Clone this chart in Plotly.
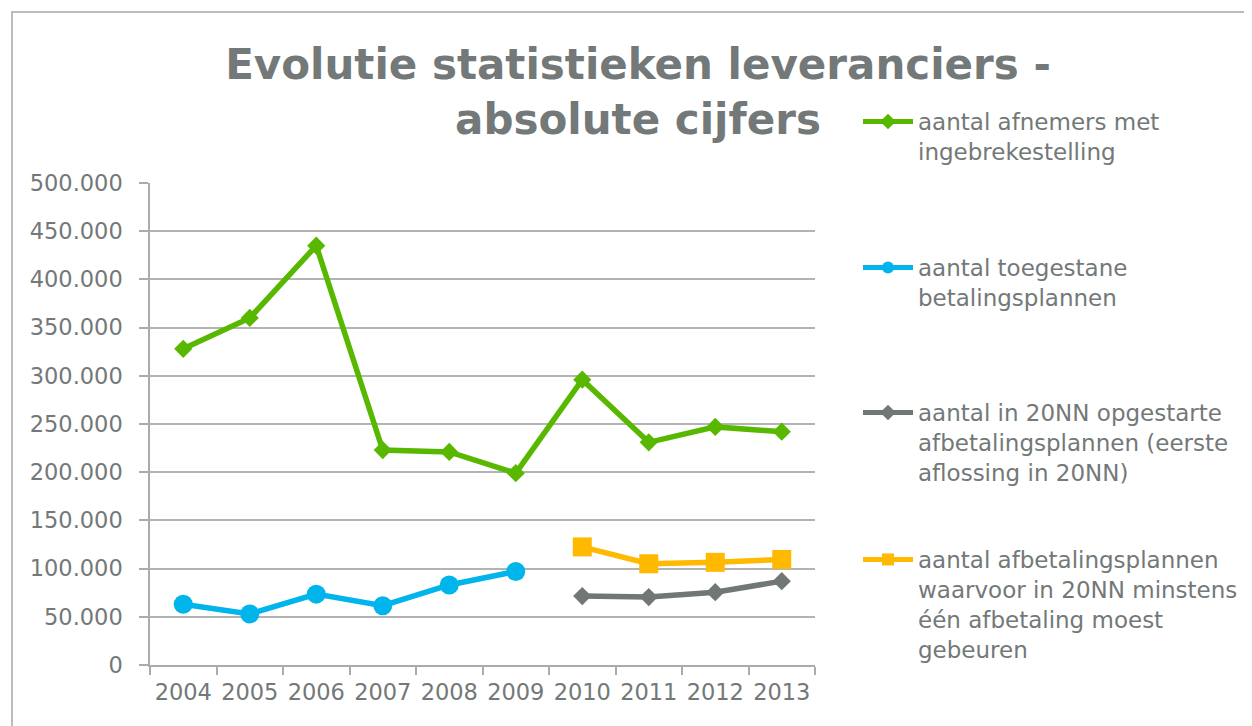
import plotly.graph_objects as go

years = ["2004", "2005", "2006", "2007", "2008", "2009", "2010", "2011", "2012", "2013"]

afnemers_ingebrekestelling = [328000, 360000, 435000, 223000, 221000, 199000, 296000, 231000, 247000, 242000]
toegestane_betalingsplannen = [63000, 53000, 73500, 61500, 83000, 97000, None, None, None, None]
opgestarte_afbetalingsplannen = [None, None, None, None, None, None, 71500, 70500, 75500, 87000]
afbetalingsplannen_minstens_een = [None, None, None, None, None, None, 122500, 105000, 106500, 109500]

names = [
    "aantal afnemers met<br>ingebrekestelling",
    "aantal toegestane<br>betalingsplannen",
    "aantal in 20NN opgestarte<br>afbetalingsplannen (eerste<br>aflossing in 20NN)",
    "aantal afbetalingsplannen<br>waarvoor in 20NN minstens<br>één afbetaling moest<br>gebeuren",
]

text_grey = "#737878"
font = "Verdana, DejaVu Sans, sans-serif"

fig = go.Figure()
fig.add_trace(go.Scatter(x=years, y=afnemers_ingebrekestelling, name=names[0], mode="lines+markers",
                         line=dict(color="#58B800", width=5.5),
                         marker=dict(symbol="diamond", size=14), legend="legend2"))
fig.add_trace(go.Scatter(x=years, y=toegestane_betalingsplannen, name=names[1], mode="lines+markers",
                         line=dict(color="#00B4EC", width=5.5),
                         marker=dict(symbol="circle", size=19), legend="legend3"))
fig.add_trace(go.Scatter(x=years, y=opgestarte_afbetalingsplannen, name=names[2], mode="lines+markers",
                         line=dict(color="#717676", width=5.5),
                         marker=dict(symbol="diamond", size=14), legend="legend4"))
fig.add_trace(go.Scatter(x=years, y=afbetalingsplannen_minstens_een, name=names[3], mode="lines+markers",
                         line=dict(color="#FFB900", width=5.5),
                         marker=dict(symbol="square", size=19), legend="legend5"))

# page body adds 8px, so positions below are reference pixels minus 8
leg = dict(xref="container", yref="container", x=850 / 1252, xanchor="left", yanchor="top",
           valign="top", font=dict(family=font, size=23, color=text_grey),
           bgcolor="rgba(0,0,0,0)", itemwidth=50, itemsizing="constant")
legend_tops = [92, 238, 383, 530]

fig.update_layout(
    width=1252, height=726,
    margin=dict(l=142, r=445, t=175, b=69),
    paper_bgcolor="white", plot_bgcolor="white",
    separators=",.",
    title=dict(text="<b>Evolutie statistieken leveranciers -<br>absolute cijfers</b>",
               xref="container", yref="container", x=630 / 1252, xanchor="center",
               y=1 - 71 / 726, yanchor="top",
               font=dict(family=font, size=42, color=text_grey)),
    legend=dict(visible=False),
    legend2=dict(leg, y=1 - legend_tops[0] / 726),
    legend3=dict(leg, y=1 - legend_tops[1] / 726),
    legend4=dict(leg, y=1 - legend_tops[2] / 726),
    legend5=dict(leg, y=1 - legend_tops[3] / 726),
    xaxis=dict(type="category", range=[-0.5, 9.5], showline=True, linecolor="#ababab", linewidth=1.5,
               ticks="outside", tickson="boundaries", ticklen=8, tickcolor="#ababab", tickwidth=1.5,
               ticklabelstandoff=6, tickangle=0, automargin=False,
               showgrid=False, tickfont=dict(family=font, size=22.5, color=text_grey)),
    yaxis=dict(range=[0, 500000], dtick=50000, tickformat=",d", showline=True, linecolor="#ababab",
               linewidth=1.5, ticks="outside", ticklen=9, tickcolor="#ababab", tickwidth=1.5,
               ticklabelstandoff=12, automargin=False,
               gridcolor="#b3b3b3", gridwidth=1.5, zeroline=False,
               tickfont=dict(family=font, size=22.5, color=text_grey)),
    shapes=[dict(type="rect", xref="paper", yref="paper",
                 x0=(4 - 142) / 665, x1=(1262 - 142) / 665,
                 y0=-(740 - 657) / 482, y1=(657 - 4) / 482,
                 line=dict(color="#a6a6a6", width=1.5), layer="below")],
)

fig.write_html("out.html")
